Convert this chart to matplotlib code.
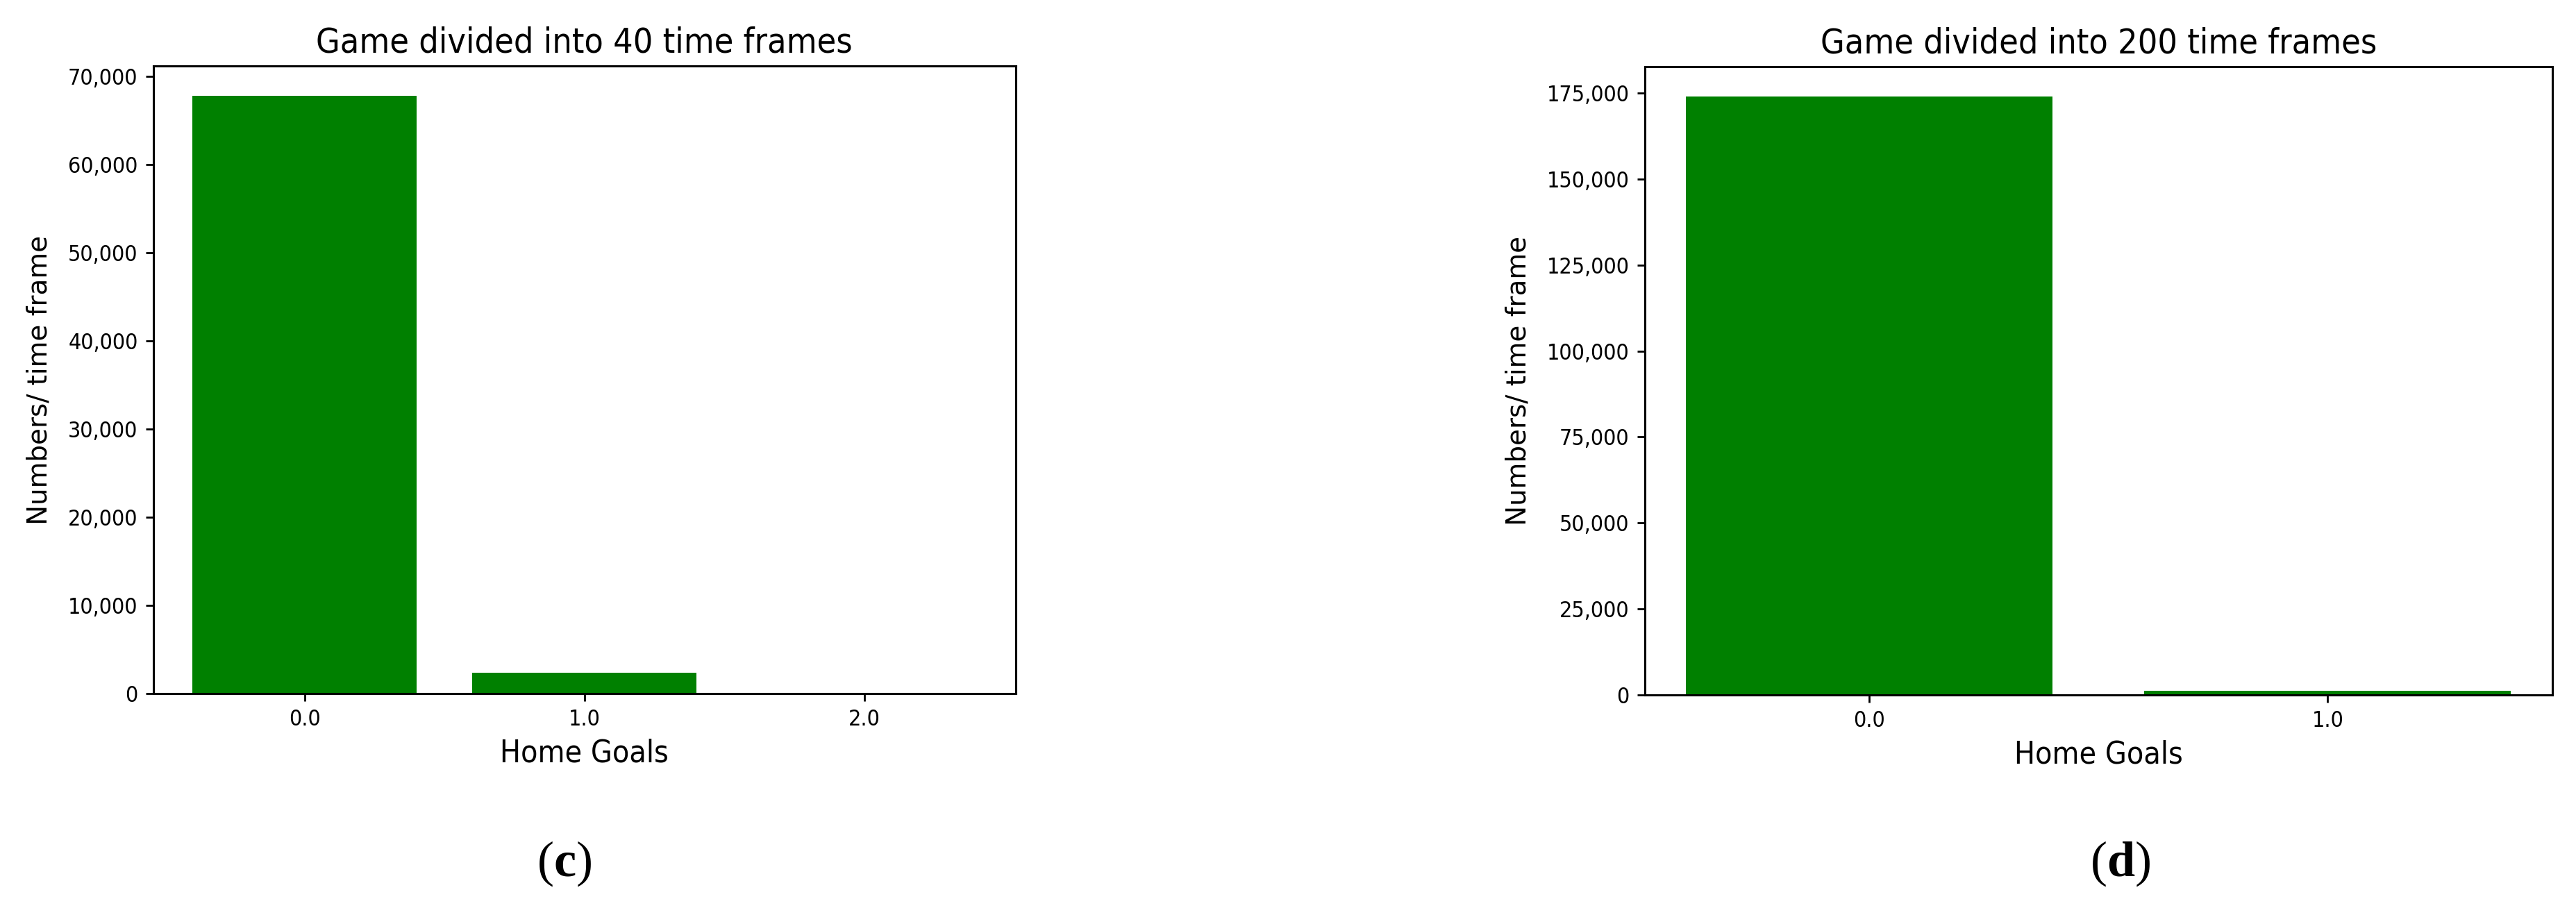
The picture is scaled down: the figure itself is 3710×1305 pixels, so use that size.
import matplotlib
matplotlib.use("Agg")
import matplotlib.pyplot as plt
from matplotlib.ticker import StrMethodFormatter

# Panel (c): game divided into 40 time frames
goals_40 = ["0.0", "1.0", "2.0"]
counts_40 = [67800, 2400, 40]

# Panel (d): game divided into 200 time frames
goals_200 = ["0.0", "1.0"]
counts_200 = [174000, 1150]

titles = ["Game divided into 40 time frames", "Game divided into 200 time frames"]
panel_tags = ["c", "d"]

plt.rcParams["mathtext.fontset"] = "custom"
plt.rcParams["mathtext.rm"] = "Liberation Serif"
plt.rcParams["mathtext.bf"] = "Liberation Serif:bold"

fig = plt.figure(figsize=(37.1, 13.05), dpi=100)
ax_c = fig.add_axes([0.0595, 0.2345, 0.3348, 0.6927])
ax_d = fig.add_axes([0.6385, 0.2330, 0.3523, 0.6935])

panels = [(ax_c, goals_40, counts_40), (ax_d, goals_200, counts_200)]
for (ax, goals, counts), title in zip(panels, titles):
    ax.bar(goals, counts, color="green", width=0.8)
    ax.set_title(title, fontsize=36, stretch="condensed", pad=14)
    ax.set_xlabel("Home Goals", fontsize=32, stretch="condensed", labelpad=8)
    ax.set_ylabel("Numbers/ time frame", fontsize=28, labelpad=16)
    ax.yaxis.set_major_formatter(StrMethodFormatter("{x:,.0f}"))
    ax.tick_params(labelsize=23, length=8, width=2, pad=8)
    for lbl in ax.get_xticklabels() + ax.get_yticklabels():
        lbl.set_fontstretch("condensed")
    for sp in ax.spines.values():
        sp.set_linewidth(2.2)

fig.text(0.219, 0.047, r"($\mathbf{" + panel_tags[0] + r"}$)", fontsize=52,
         family="Liberation Serif", ha="center", va="center")
fig.text(0.823, 0.047, r"($\mathbf{" + panel_tags[1] + r"}$)", fontsize=52,
         family="Liberation Serif", ha="center", va="center")

fig.savefig("out.png", dpi=100, facecolor="white")
